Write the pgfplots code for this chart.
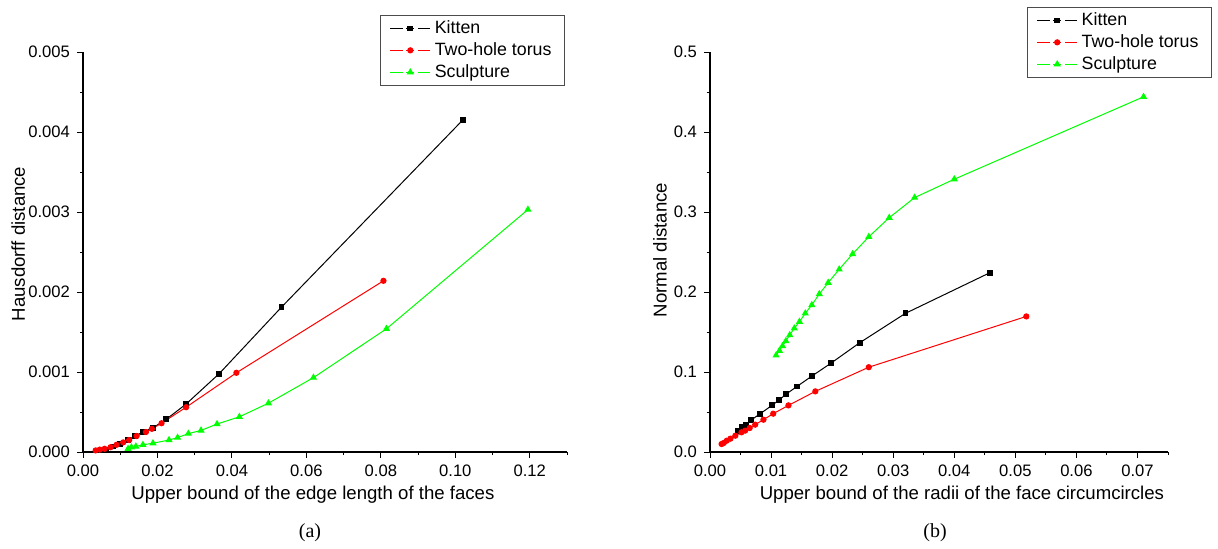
\documentclass[border=0pt]{standalone}
\usepackage{fontspec}
\setmainfont{Liberation Sans}
\newfontfamily\capfont{Liberation Serif}
\usepackage{pgfplots}
\pgfplotsset{compat=1.18}

\pgfplotsset{
  originstyle/.style={
    scale only axis,
    axis lines*=left,
    tick align=outside,
    major tick length=3pt,
    minor tick length=1.6pt,
    every tick/.style={black, line width=0.5pt},
    axis line style={line width=0.6pt},
    tick label style={font=\fontsize{8.3}{10}\selectfont},
    label style={font=\fontsize{9.3}{11}\selectfont},
    /pgf/number format/assume math mode=true,
    scaled ticks=false,
    clip=false,
    legend cell align=left,
    legend style={font=\fontsize{8.9}{10.5}\selectfont, draw=black!70,
      line width=0.5pt, inner xsep=4.5pt, inner ysep=0.5pt, row sep=-1pt},
    legend image code/.code={
      \draw[mark repeat=3,mark phase=2,#1] plot coordinates {(0pt,0pt) (10pt,0pt) (20pt,0pt)};
      \fill[white] (6.6pt,-0.6pt) rectangle (7.8pt,0.6pt);
      \fill[white] (12.2pt,-0.6pt) rectangle (13.4pt,0.6pt);
    },
  },
  kitten/.style={black, line width=0.5pt, mark=square*, mark size=1.2pt},
  torus/.style={red, line width=0.5pt, mark=*, mark size=1.3pt},
  sculpt/.style={green, line width=0.5pt, mark=triangle*, mark size=1.6pt},
}

\begin{document}
\begin{tikzpicture}
\useasboundingbox (0,0) rectangle (609pt,274pt);

% (a) Hausdorff distance
\begin{axis}[
    originstyle,
    at={(41.5pt,48pt)}, anchor=south west,
    width=242pt, height=200pt,
    xmin=0, xmax=0.13, ymin=0, ymax=0.005,
    xtick={0,0.02,0.04,0.06,0.08,0.10,0.12},
    minor xtick={0.01,0.03,0.05,0.07,0.09,0.11,0.13},
    ytick={0,0.001,0.002,0.003,0.004,0.005},
    minor ytick={0.0005,0.0015,0.0025,0.0035,0.0045},
    xticklabel style={/pgf/number format/.cd, fixed, fixed zerofill, precision=2},
    yticklabel style={/pgf/number format/.cd, fixed, fixed zerofill, precision=3},
    xlabel={Upper bound of the edge length of the faces},
    ylabel={Hausdorff distance},
    xlabel style={at={(axis description cs:0.475,-0.1075)}, anchor=center},
    ylabel style={at={(axis description cs:-0.134,0.52)}, anchor=center},
    legend style={at={(0.996,1.0925)}, anchor=north east},
]
\addplot[kitten] coordinates {
  (0.0063,0.00003) (0.0081,0.00007) (0.0099,0.00010) (0.0121,0.00015)
  (0.0139,0.00020) (0.0161,0.00025) (0.0187,0.00030) (0.0224,0.00041)
  (0.0277,0.00060) (0.0366,0.00098) (0.0533,0.00181) (0.1020,0.00415)
};
\addlegendentry{Kitten}
\addplot[torus] coordinates {
  (0.0034,0.00002) (0.0045,0.00003) (0.0058,0.00004) (0.0074,0.00006)
  (0.0090,0.00009) (0.0108,0.00012) (0.0124,0.00015) (0.0144,0.00020)
  (0.0169,0.00025) (0.0185,0.00029) (0.0211,0.00036) (0.0277,0.00056)
  (0.0412,0.00099) (0.0807,0.00214)
};
\addlegendentry{Two-hole torus}
\addplot[sculpt] coordinates {
  (0.0121,0.00004) (0.0130,0.00006) (0.0142,0.00007) (0.0161,0.00009)
  (0.0188,0.00011) (0.0231,0.00015) (0.0254,0.00018) (0.0283,0.00023)
  (0.0317,0.00027) (0.0360,0.00035) (0.0420,0.00044) (0.0498,0.00061)
  (0.0619,0.00093) (0.0815,0.00154) (0.1195,0.00303)
};
\addlegendentry{Sculpture}
\end{axis}

% (b) Normal distance
\begin{axis}[
    originstyle,
    at={(355pt,48pt)}, anchor=south west,
    width=229pt, height=200pt,
    xmin=0, xmax=0.075, ymin=0, ymax=0.5,
    xtick={0,0.01,0.02,0.03,0.04,0.05,0.06,0.07},
    minor xtick={0.005,0.015,0.025,0.035,0.045,0.055,0.065,0.075},
    ytick={0,0.1,0.2,0.3,0.4,0.5},
    minor ytick={0.05,0.15,0.25,0.35,0.45},
    xticklabel style={/pgf/number format/.cd, fixed, fixed zerofill, precision=2},
    yticklabel style={/pgf/number format/.cd, fixed, fixed zerofill, precision=1},
    xlabel={Upper bound of the radii of the face circumcircles},
    ylabel={Normal distance},
    xlabel style={at={(axis description cs:0.55,-0.1075)}, anchor=center},
    ylabel style={at={(axis description cs:-0.109,0.505)}, anchor=center},
    legend style={at={(1.096,1.1125)}, anchor=north east},
]
\addplot[kitten] coordinates {
  (0.0046,0.0267) (0.00525,0.0308) (0.0059,0.0342) (0.00675,0.0400)
  (0.00815,0.0475) (0.01015,0.0583) (0.0113,0.0650) (0.0125,0.0725)
  (0.01425,0.0820) (0.0167,0.0950) (0.0198,0.1110) (0.0245,0.1365)
  (0.0320,0.1733) (0.0458,0.2240)
};
\addlegendentry{Kitten}
\addplot[torus] coordinates {
  (0.0019,0.0100) (0.00225,0.0113) (0.00275,0.0142) (0.00335,0.0167)
  (0.00415,0.0204) (0.00515,0.0246) (0.00575,0.0267) (0.0065,0.0300)
  (0.0074,0.0342) (0.00875,0.0404) (0.01035,0.0479) (0.01285,0.0583)
  (0.01725,0.0758) (0.0260,0.1060) (0.0518,0.1695)
};
\addlegendentry{Two-hole torus}
\addplot[sculpt] coordinates {
  (0.01082,0.1208) (0.01136,0.1267) (0.01187,0.1325) (0.01242,0.1388)
  (0.01306,0.1463) (0.0138,0.1546) (0.01465,0.1629) (0.0156,0.1733)
  (0.01667,0.1838) (0.0179,0.1975) (0.01935,0.2117) (0.02115,0.2283)
  (0.02335,0.2475) (0.0260,0.2690) (0.02935,0.2929) (0.0335,0.3180)
  (0.0400,0.3410) (0.0710,0.4440)
};
\addlegendentry{Sculpture}
\end{axis}

\node[font=\capfont\fontsize{10}{12}\selectfont] at (155pt,7.5pt) {(a)};
\node[font=\capfont\fontsize{10}{12}\selectfont] at (467.5pt,7.5pt) {(b)};
\end{tikzpicture}
\end{document}
